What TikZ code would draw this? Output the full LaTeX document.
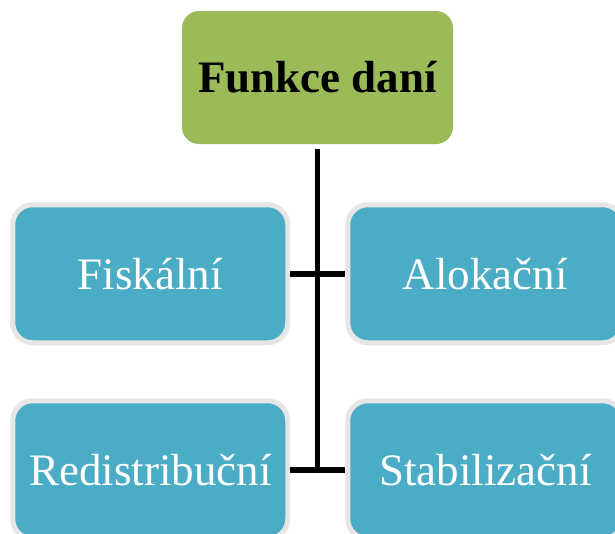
\documentclass[tikz,border=0pt]{standalone}
\usepackage{fontspec}
\setmainfont{Liberation Serif}
\usetikzlibrary{positioning}
\definecolor{taxgreen}{HTML}{9BBB59}
\definecolor{taxblue}{HTML}{4BACC6}
\definecolor{taxrim}{HTML}{E6E6E6}
\tikzset{
  topic/.style={rectangle,rounded corners=17pt,fill=taxgreen,minimum width=271pt,
    minimum height=133pt,font=\fontsize{45}{54}\selectfont\bfseries},
  func/.style={rectangle,rounded corners=20pt,fill=taxblue,draw=taxrim,line width=5pt,
    minimum width=275pt,minimum height=138pt,text=white,font=\fontsize{45}{54}\selectfont},
  link/.style={line width=5.5pt}
}
\begin{document}
\begin{tikzpicture}[x=1pt,y=-1pt,node distance=196pt,on grid]
\useasboundingbox (0,0) rectangle (615,533);
\node[topic] (root) at (317.5,77.5) {Funkce daní};
\node[func] (fisk) [below left=196.25pt and 167.25pt of root] {Fiskální};
\node[func] (alok) [right=335pt of fisk] {Alokační};
\node[func] (redis) [below=of fisk] {Redistribuční};
\node[func] (stab) [right=335pt of redis] {Stabilizační};

\draw[link] (fisk.east) -- (alok.west);
\draw[link] (redis.east) -- (stab.west);
\draw[link,shorten <=5pt] (root.south) -- (root.south |- redis.east);
\end{tikzpicture}
\end{document}
